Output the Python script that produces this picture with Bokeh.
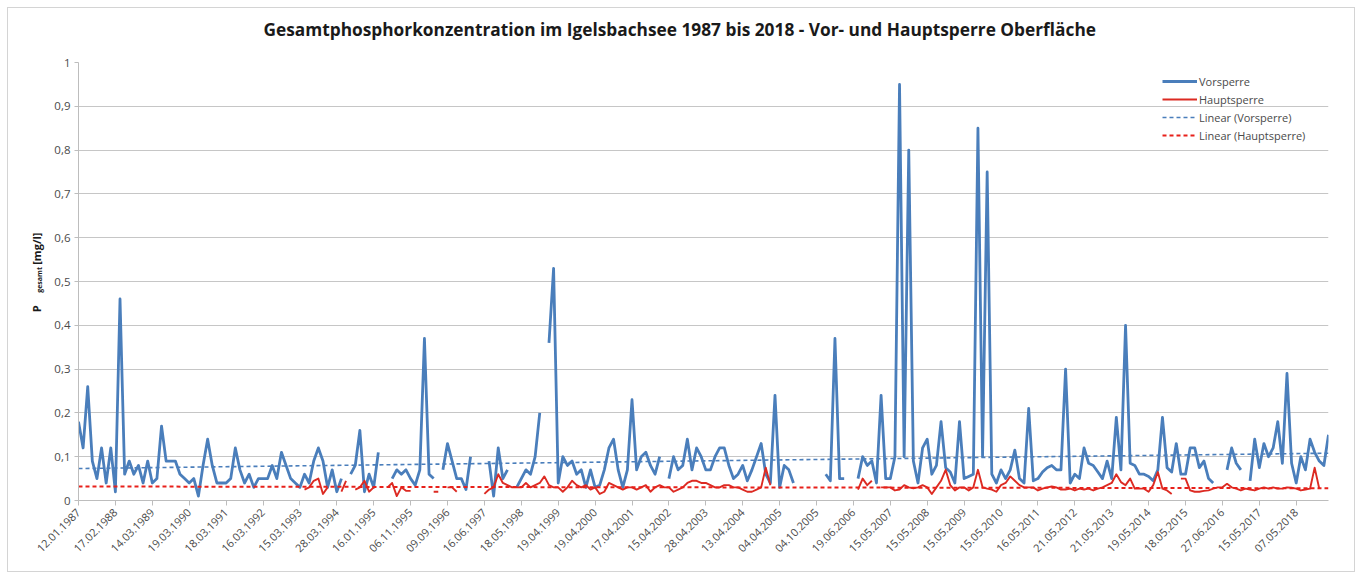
import math
from bokeh.plotting import figure
from bokeh.layouts import row
from bokeh.models import Range1d, FixedTicker, Legend, LegendItem, Label, Title
from bokeh.embed import file_html
from bokeh.resources import INLINE

nan = float("nan")

title_text = "Gesamtphosphorkonzentration im Igelsbachsee 1987 bis 2018 - Vor- und Hauptsperre Oberfläche"

date_labels = [
    "12.01.1987", "17.02.1988", "14.03.1989", "19.03.1990", "18.03.1991", "16.03.1992",
    "15.03.1993", "28.03.1994", "16.01.1995", "06.11.1995", "09.09.1996", "16.06.1997",
    "18.05.1998", "19.04.1999", "19.04.2000", "17.04.2001", "15.04.2002", "28.04.2003",
    "13.04.2004", "04.04.2005", "04.10.2005", "19.06.2006", "15.05.2007", "15.05.2008",
    "15.05.2009", "15.05.2010", "16.05.2011", "21.05.2012", "21.05.2013", "19.05.2014",
    "18.05.2015", "27.06.2016", "15.05.2017", "07.05.2018",
]
samples_per_label = 8  # category samples between two labelled dates

# Vorsperre (8 per label interval)
vorsperre = [
    0.18, 0.12, 0.26, 0.09, 0.05, 0.12, 0.04, 0.12,
    0.02, 0.46, 0.06, 0.09, 0.06, 0.08, 0.04, 0.09,
    0.04, 0.05, 0.17, 0.09, 0.09, 0.09, 0.06, 0.05,
    0.04, 0.05, 0.01, 0.08, 0.14, 0.08, 0.04, 0.04,
    0.04, 0.05, 0.12, 0.07, 0.04, 0.06, 0.03, 0.05,
    0.05, 0.05, 0.08, 0.05, 0.11, 0.08, 0.05, 0.04,
    0.03, 0.06, 0.04, 0.09, 0.12, 0.09, 0.03, 0.07,
    0.02, 0.05, nan, 0.06, 0.08, 0.16, 0.02, 0.06,
    0.03, 0.11, nan, nan, 0.05, 0.07, 0.06, 0.07,
    0.05, 0.035, 0.07, 0.37, 0.06, 0.05, nan, 0.07,
    0.13, 0.09, 0.05, 0.05, 0.025, 0.1, nan, nan,
    nan, 0.09, 0.01, 0.12, 0.05, 0.07, nan, 0.03,
    0.05, 0.07, 0.06, 0.1, 0.2, nan, 0.36, 0.53,
    0.04, 0.1, 0.08, 0.09, 0.06, 0.07, 0.03, 0.07,
    0.03, 0.035, 0.07, 0.12, 0.14, 0.07, 0.03, 0.07,
    0.23, 0.07, 0.1, 0.11, 0.08, 0.06, 0.1, nan,
    0.05, 0.1, 0.07, 0.08, 0.14, 0.07, 0.12, 0.1,
    0.07, 0.07, 0.1, 0.12, 0.12, 0.08, 0.05, 0.06,
    0.08, 0.045, 0.07, 0.1, 0.13, 0.06, 0.04, 0.24,
    0.03, 0.08, 0.07, 0.04, nan, nan, nan, nan,
    nan, nan, 0.06, 0.045, 0.37, 0.05, 0.05, nan,
    nan, 0.05, 0.1, 0.08, 0.09, 0.04, 0.24, 0.05,
    0.05, 0.1, 0.95, 0.1, 0.8, 0.09, 0.04, 0.12,
    0.14, 0.06, 0.08, 0.18, 0.075, 0.065, 0.04, 0.18,
    0.05, 0.055, 0.06, 0.85, 0.1, 0.75, 0.06, 0.04,
    0.07, 0.05, 0.07, 0.115, 0.05, 0.04, 0.21, 0.045,
    0.05, 0.065, 0.075, 0.08, 0.07, 0.07, 0.3, 0.04,
    0.06, 0.05, 0.12, 0.085, 0.08, 0.065, 0.05, 0.09,
    0.05, 0.19, 0.07, 0.4, 0.085, 0.08, 0.06, 0.06,
    0.055, 0.045, 0.07, 0.19, 0.075, 0.065, 0.13, 0.06,
    0.06, 0.12, 0.12, 0.075, 0.09, 0.05, 0.04, nan,
    nan, 0.07, 0.12, 0.085, 0.07, nan, 0.045, 0.14,
    0.075, 0.13, 0.1, 0.12, 0.18, 0.085, 0.29, 0.085,
    0.04, 0.1, 0.07, 0.14, 0.11, 0.09, 0.08, 0.15,
]

# Hauptsperre
hauptsperre = [nan] * 48 + [
    nan, 0.025, 0.03, 0.045, 0.05, 0.015, 0.03, nan,
    nan, 0.02, 0.045, nan, 0.025, 0.03, 0.045, 0.02,
    0.03, nan, nan, 0.03, 0.04, 0.01, 0.03, 0.022,
    0.022, nan, nan, nan, nan, 0.02, 0.02, nan,
    0.03, 0.03, 0.02, nan, nan, nan, nan, nan,
    0.015, 0.025, 0.03, 0.06, 0.04, 0.035, 0.03, 0.03,
    0.03, 0.04, 0.03, 0.035, 0.04, 0.055, 0.035, 0.03,
    0.03, 0.02, 0.03, 0.045, 0.035, 0.03, 0.035, 0.025,
    0.03, 0.015, 0.02, 0.04, 0.035, 0.03, 0.025, 0.03,
    0.03, 0.025, 0.03, 0.035, 0.02, 0.03, 0.035, 0.03,
    0.03, 0.02, 0.025, 0.03, 0.04, 0.045, 0.045, 0.04,
    0.04, 0.035, 0.03, 0.03, 0.035, 0.035, 0.03, 0.03,
    0.025, 0.02, 0.02, 0.025, 0.03, 0.075, 0.035, nan,
    nan, nan, nan, nan, nan, nan, nan, nan,
    nan, nan, nan, nan, nan, nan, nan, nan,
    nan, 0.025, 0.05, 0.035, 0.045, nan, 0.03, 0.03,
    0.03, 0.023, 0.025, 0.035, 0.03, 0.028, 0.03, 0.035,
    0.03, 0.015, 0.03, 0.045, 0.07, 0.035, 0.023, 0.03,
    0.03, 0.023, 0.03, 0.07, 0.03, 0.027, 0.025, 0.02,
    0.035, 0.04, 0.055, 0.045, 0.035, 0.03, 0.03, 0.03,
    0.023, 0.027, 0.03, 0.032, 0.03, 0.025, 0.025, 0.027,
    0.023, 0.027, 0.025, 0.027, 0.023, 0.027, 0.03, 0.035,
    0.04, 0.06, 0.042, 0.035, 0.05, 0.027, 0.027, 0.027,
    0.02, 0.035, 0.065, 0.027, 0.023, 0.015, nan, 0.05,
    0.05, 0.023, 0.02, 0.02, 0.022, 0.023, 0.027, 0.03,
    0.03, 0.038, 0.03, 0.027, 0.023, 0.027, 0.025, 0.023,
    0.027, 0.03, 0.027, 0.03, 0.027, 0.027, 0.03, 0.029,
    0.027, 0.023, 0.025, 0.027, 0.075, 0.027, nan, nan,
]

# linear trend lines (start / end value)
trend_vorsperre = [0.073, 0.108]
trend_hauptsperre = [0.032, 0.028]

y_ticks = [0, 0.1, 0.2, 0.3, 0.4, 0.5, 0.6, 0.7, 0.8, 0.9, 1]
y_tick_labels = ["0", "0,1", "0,2", "0,3", "0,4", "0,5", "0,6", "0,7", "0,8", "0,9", "1"]

n = len(vorsperre)
xs = list(range(n))
x_last = n - 1
tick_pos = [i * samples_per_label for i in range(len(date_labels))]

FONT = "Open Sans"
BLUE = "#4a7ebb"
RED = "#dc2a22"
TXT = "#4a4a4a"
W = 1346
H = 563

# ---- underlay holding the y axis title ------------------------------------
lab = figure(width=W, height=H, output_backend="svg", toolbar_location=None, title=None,
             x_range=Range1d(0, W), y_range=Range1d(0, H),
             x_axis_type=None, y_axis_type=None,
             min_border_left=0, min_border_right=0, min_border_top=0, min_border_bottom=0)
lab.outline_line_color = None
lab.xgrid.visible = False
lab.ygrid.visible = False
lab_kw = dict(angle=math.pi / 2, text_font=FONT, text_font_style="bold", text_color="#1a1a1a",
              text_align="left", text_baseline="middle")
lab.add_layout(Label(x=28, y=H - 321, text="P", text_font_size="11px", **lab_kw))
lab.add_layout(Label(x=30.5, y=H - 296, text="gesamt", text_font_size="7px", **lab_kw))
lab.add_layout(Label(x=28, y=H - 260, text="[mg/l]", text_font_size="11px", **lab_kw))

# ---- main chart (laid over the underlay) ---------------------------------
p = figure(width=W, height=H, output_backend="svg", toolbar_location=None, title=title_text,
           x_range=Range1d(0, x_last), y_range=Range1d(0, 1),
           min_border_left=70, min_border_right=26, min_border_top=54, min_border_bottom=71)
p.styles = {"margin-left": f"-{W}px"}
p.background_fill_color = "white"
p.border_fill_alpha = 0
p.outline_line_color = None

# spacer between the frame and the chart title
p.add_layout(Title(text=" ", text_font_size="2px", standoff=18), "above")
p.title.align = "left"
p.title.offset = 185
p.title.standoff = 0
p.title.text_font = FONT
p.title.text_font_size = "17.3px"
p.title.text_font_style = "bold"
p.title.text_color = "#1a1a1a"

# grid
p.xgrid.grid_line_color = None
p.ygrid.grid_line_color = "#c6c6c6"
p.ygrid.grid_line_width = 1

# y axis
p.yaxis.ticker = FixedTicker(ticks=y_ticks)
p.yaxis.major_label_overrides = {t: l for t, l in zip(y_ticks, y_tick_labels)}
p.yaxis.axis_line_color = "#bdbdbd"
p.yaxis.major_tick_line_color = "#bdbdbd"
p.yaxis.major_tick_in = 0
p.yaxis.major_tick_out = 4
p.yaxis.minor_tick_line_color = None
p.yaxis.major_label_text_font = FONT
p.yaxis.major_label_text_font_size = "11.5px"
p.yaxis.major_label_text_color = TXT
p.yaxis.major_label_standoff = 4

# x axis
p.xaxis.ticker = FixedTicker(ticks=tick_pos)
p.xaxis.major_label_overrides = {t: l for t, l in zip(tick_pos, date_labels)}
p.xaxis.major_label_orientation = math.pi / 4
p.xaxis.axis_line_color = "#bdbdbd"
p.xaxis.major_tick_line_color = "#bdbdbd"
p.xaxis.major_tick_in = 0
p.xaxis.major_tick_out = 5
p.xaxis.minor_tick_line_color = None
p.xaxis.major_label_text_font = FONT
p.xaxis.major_label_text_font_size = "11px"
p.xaxis.major_label_text_color = TXT
p.xaxis.major_label_standoff = 5

r_vor = p.line(xs, vorsperre, line_color=BLUE, line_width=2.8, line_join="round")
r_haupt = p.line(xs, hauptsperre, line_color=RED, line_width=1.9, line_join="round")
r_tv = p.line([0, x_last], trend_vorsperre, line_color=BLUE, line_width=1.6, line_dash="4 3")
r_th = p.line([0, x_last], trend_hauptsperre, line_color="#e8201a", line_width=2, line_dash="4 3")

legend = Legend(items=[
    LegendItem(label="Vorsperre", renderers=[r_vor]),
    LegendItem(label="Hauptsperre", renderers=[r_haupt]),
    LegendItem(label="Linear (Vorsperre)", renderers=[r_tv]),
    LegendItem(label="Linear (Hauptsperre)", renderers=[r_th]),
], location=(1084, 356))
legend.margin = 0
legend.padding = 4
legend.spacing = 0
legend.glyph_width = 35
legend.glyph_height = 18
legend.label_height = 18
legend.label_standoff = 2
legend.label_text_font = FONT
legend.label_text_font_size = "11px"
legend.label_text_color = TXT
legend.background_fill_alpha = 0
legend.border_line_color = None
p.add_layout(legend)

layout = row(lab, p)
layout.styles = {"border": "1px solid #d4d4d4", "margin": "7px 0 0 7px"}

open("out.html", "w").write(file_html(layout, INLINE))
